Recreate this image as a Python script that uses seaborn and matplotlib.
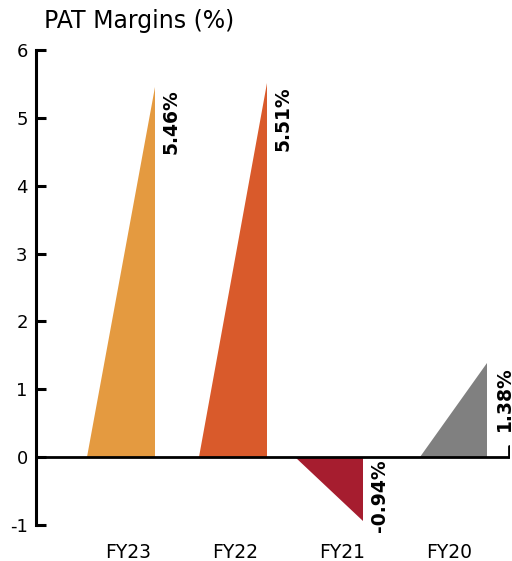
import matplotlib
matplotlib.use("Agg")
import matplotlib.pyplot as plt
import seaborn as sns

# PAT margin per financial year (%)
years = ["FY23", "FY22", "FY21", "FY20"]
margins = [5.46, 5.51, -0.94, 1.38]
value_labels = ["5.46%", "5.51%", "-0.94%", "1.38%"]
colors = ["#E49A40", "#D95A2B", "#A61D2F", "#808080"]

y_ticks = [-1, 0, 1, 2, 3, 4, 5, 6]

# layout: where each wedge's vertical edge sits relative to its label
edge_shift = [0.25, 0.30, 0.20, 0.36]
wedge_width = 0.635

sns.set_theme(style="white")
plt.rcParams["font.family"] = ["DejaVu Sans"]

fig = plt.figure(figsize=(5.12, 5.61), dpi=100)
ax = fig.add_axes([0.0703, 0.0642, 0.9257, 0.8467])

palette = sns.color_palette(colors)
for i, (v, c) in enumerate(zip(margins, palette)):
    right = i + edge_shift[i]
    left = right - wedge_width
    ax.fill([left, right, right], [0, 0, v], color=c, lw=0, zorder=2)
    ax.text(right + 0.065, max(v, 0) - 0.04, value_labels[i], rotation=90,
            ha="left", va="top", fontsize=13.5, fontweight="bold",
            color="black", zorder=3)

xmin, xmax = -0.86, 3.57
ax.set_xlim(xmin, xmax)
ax.set_ylim(-1, 6)

# baseline with a small end mark
ax.plot([xmin, xmax - 0.005], [0, 0], color="black", lw=2, zorder=4,
        solid_capstyle="butt")
ax.plot([xmax - 0.01, xmax - 0.01], [0, 0.16], color="black", lw=2, zorder=4)

ax.set_yticks(y_ticks)
ax.set_yticklabels([str(t) for t in y_ticks], fontsize=13)
ax.set_xticks(range(len(years)))
ax.set_xticklabels(years, fontsize=13.5)

sns.despine(ax=ax, top=True, right=True, bottom=True, left=False)
ax.spines["left"].set_linewidth(2.2)
ax.spines["left"].set_color("black")
ax.tick_params(axis="y", direction="in", length=7.5, width=2.2, pad=6,
               colors="black", left=True)
ax.tick_params(axis="x", length=0, pad=13, colors="black")
ax.grid(False)

fig.text(0.086, 0.963, "PAT Margins (%)", fontsize=17, ha="left", va="center",
         color="black")

fig.savefig("out.png", dpi=100)
